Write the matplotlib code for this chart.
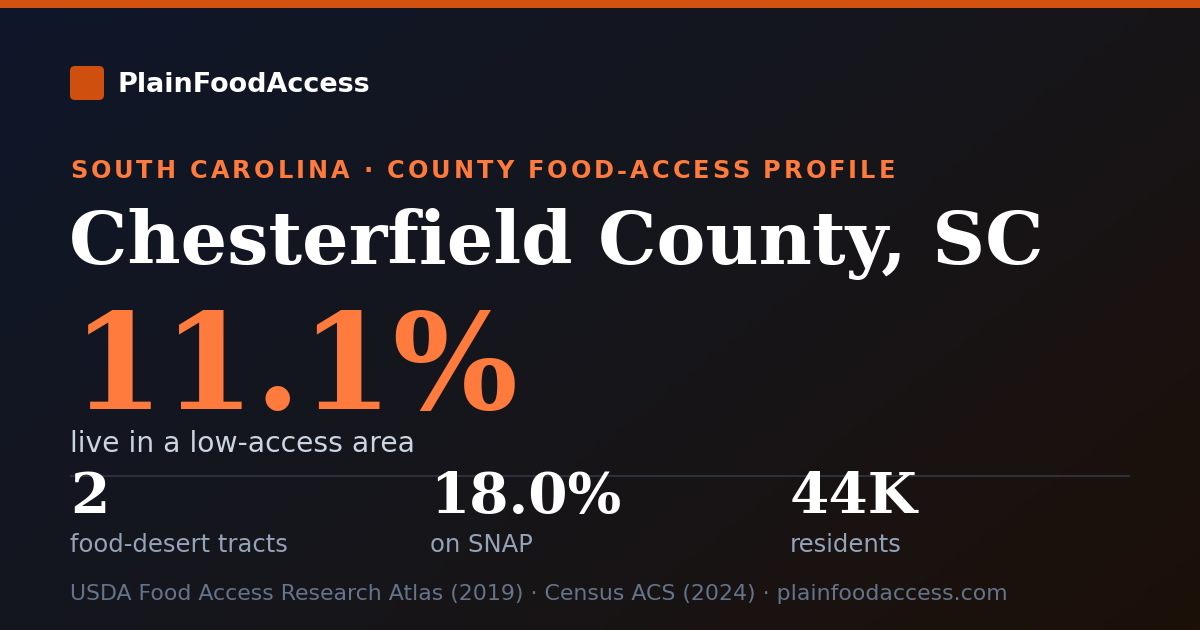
import numpy as np
import matplotlib
matplotlib.use("Agg")
import matplotlib.pyplot as plt
from matplotlib.patches import FancyBboxPatch, Rectangle
from matplotlib.font_manager import FontProperties
from matplotlib.colors import LinearSegmentedColormap

brand = "PlainFoodAccess"
eyebrow = "SOUTH CAROLINA · COUNTY FOOD-ACCESS PROFILE"
title = "Chesterfield County, SC"
headline_value = "11.1%"
headline_label = "live in a low-access area"
stat_values = ["2", "18.0%", "44K"]
stat_labels = ["food-desert tracts", "on SNAP", "residents"]
footer = "USDA Food Access Research Atlas (2019) · Census ACS (2024) · plainfoodaccess.com"

W, H = 1200, 630
DPI = 100
PT = 72 / DPI  # px -> pt

fig = plt.figure(figsize=(W / DPI, H / DPI), dpi=DPI)
ax = fig.add_axes([0, 0, 1, 1])
ax.set_xlim(0, W)
ax.set_ylim(H, 0)
ax.axis("off")

# background gradient (diagonal)
yy, xx = np.mgrid[0:H:2, 0:W:2]
t = (xx / W * 0.6 + yy / H * 0.4)
cmap = LinearSegmentedColormap.from_list("bg", ["#0f172a", "#16161c", "#1c1008"])
ax.imshow(t, cmap=cmap, extent=[0, W, H, 0], aspect="auto", zorder=0, interpolation="bilinear")

# top bar
ax.add_patch(Rectangle((0, 0), W, 8, color="#d4520f", zorder=2, lw=0))

# logo
ax.add_patch(FancyBboxPatch((70 + 5, 66 + 5), 34 - 10, 34 - 10,
                            boxstyle="round,pad=5", fc="#cf500e", ec="none", zorder=2))
ax.text(118, 92, brand, fontsize=27 * PT, fontweight="bold", color="white",
        family="DejaVu Sans", va="baseline", ha="left", zorder=3)

# eyebrow with letter spacing
fig.canvas.draw()
renderer = fig.canvas.get_renderer()
fp = FontProperties(family="DejaVu Sans", weight="bold", size=24 * PT)
spacing = 2.95
x0 = 70
for i, ch in enumerate(eyebrow):
    if i > 0:
        w, _, _ = renderer.get_text_width_height_descent(eyebrow[:i], fp, ismath=False)
    else:
        w = 0
    ax.text(x0 + w + i * spacing, 178.5, ch, fontproperties=fp, color="#ff7a3d",
            va="baseline", ha="left", zorder=3)

# title
ax.text(69, 264, title, fontsize=73.2 * PT, fontweight="bold", family="DejaVu Serif",
        color="white", va="baseline", ha="left", zorder=3)

# headline
ax.text(72, 409, headline_value, fontsize=132 * PT, fontweight="bold", family="DejaVu Serif",
        color="#ff7a3d", va="baseline", ha="left", zorder=3)
ax.text(70, 452, headline_label, fontsize=28.3 * PT, family="DejaVu Sans",
        color="#cbd5e1", va="baseline", ha="left", zorder=3)

# divider
ax.plot([70, 1130], [475.5, 475.5], color="#2b303b", lw=2 * PT, zorder=2, solid_capstyle="butt")

# stats
cols = [70, 430, 790]
for x, v, l in zip(cols, stat_values, stat_labels):
    ax.text(x, 513, v, fontsize=56.5 * PT, fontweight="bold", family="DejaVu Serif",
            color="white", va="baseline", ha="left", zorder=3)
    ax.text(x, 552, l, fontsize=24.3 * PT, family="DejaVu Sans",
            color="#94a3b8", va="baseline", ha="left", zorder=3)

# footer
ax.text(70, 600, footer, fontsize=21.95 * PT, family="DejaVu Sans",
        color="#64748b", va="baseline", ha="left", zorder=3)

fig.savefig("out.png", dpi=DPI)
